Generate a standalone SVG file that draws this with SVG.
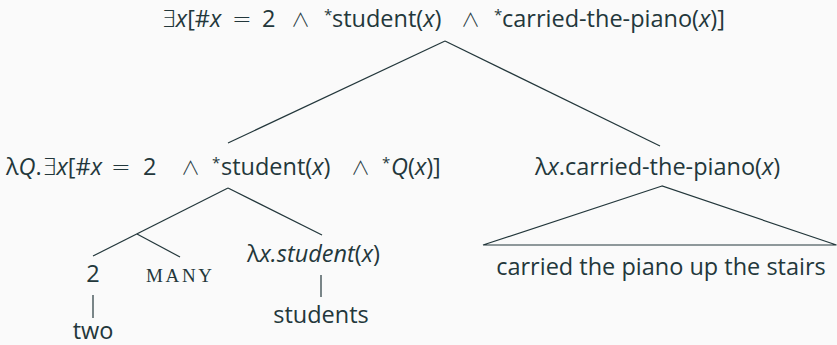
<svg xmlns="http://www.w3.org/2000/svg" width="837" height="345" viewBox="0 0 837 345">
<style>
text{font-family:"Open Sans","Noto Sans",sans-serif;font-size:23.5px;fill:#23373b}
.i{font-style:italic}
.sym{font-family:"DejaVu Sans",sans-serif;font-weight:200}
.and{font-family:"Noto Sans CJK JP","DejaVu Sans",sans-serif;font-weight:300;font-size:19px}
.st{font-size:15px}
.sc{font-family:"Liberation Serif",serif;font-size:19px}
.e line,.e polygon{stroke:#23373b;stroke-width:1.2;fill:none}
</style>
<rect width="837" height="345" fill="#fafafa"/>
<g id="connectors" class="e">
<line x1="445" y1="41" x2="228" y2="143"/>
<line x1="445" y1="41" x2="660" y2="146"/>
<line x1="228" y1="188" x2="93" y2="256"/>
<line x1="137" y1="234" x2="180" y2="257"/>
<line x1="228" y1="188" x2="322" y2="235"/>
<line x1="93" y1="295" x2="93" y2="318"/>
<line x1="321" y1="275" x2="321" y2="297"/>
<polygon points="662,186 483,245 836.5,245"/>
</g>
<g id="root">
<text y="27"><tspan x="161" class="sym">∃</tspan><tspan class="i">x</tspan><tspan>[#</tspan><tspan class="i">x</tspan><tspan x="232" class="sym">=</tspan><tspan x="262">2</tspan><tspan x="291" class="and">∧</tspan><tspan x="324" dy="-7" class="st">*</tspan><tspan x="332" dy="7">student(</tspan><tspan class="i">x</tspan><tspan>)</tspan><tspan x="461" class="and">∧</tspan><tspan x="494" dy="-7" class="st">*</tspan><tspan x="502" dy="7">carried-the-piano(</tspan><tspan class="i">x</tspan><tspan>)]</tspan></text>
</g>
<g id="subject">
<text y="175"><tspan x="6">λ</tspan><tspan class="i">Q</tspan><tspan>.</tspan><tspan class="sym">∃</tspan><tspan class="i">x</tspan><tspan>[#</tspan><tspan class="i">x</tspan><tspan x="111" class="sym">=</tspan><tspan x="143">2</tspan><tspan x="181" class="and">∧</tspan><tspan x="212" dy="-7" class="st">*</tspan><tspan x="221" dy="7">student(</tspan><tspan class="i">x</tspan><tspan>)</tspan><tspan x="351" class="and">∧</tspan><tspan x="382" dy="-7" class="st">*</tspan><tspan x="391" dy="7" class="i">Q</tspan><tspan>(</tspan><tspan class="i">x</tspan><tspan>)]</tspan></text>
</g>
<g id="predicate">
<text y="175"><tspan x="535">λ</tspan><tspan class="i">x</tspan><tspan>.carried-the-piano(</tspan><tspan class="i">x</tspan><tspan>)</tspan></text>
</g>
<g id="vp-leaf">
<text x="661" y="275" text-anchor="middle">carried the piano up the stairs</text>
</g>
<g id="num">
<text x="93" y="282" text-anchor="middle">2</text>
</g>
<g id="many">
<text x="146" y="282" class="sc" textLength="66">MANY</text>
</g>
<g id="noun">
<text y="262"><tspan x="247">λ</tspan><tspan class="i">x.student</tspan><tspan>(</tspan><tspan class="i">x</tspan><tspan>)</tspan></text>
</g>
<g id="two">
<text x="93" y="339" text-anchor="middle">two</text>
</g>
<g id="students">
<text x="321" y="323" text-anchor="middle">students</text>
</g>
</svg>
